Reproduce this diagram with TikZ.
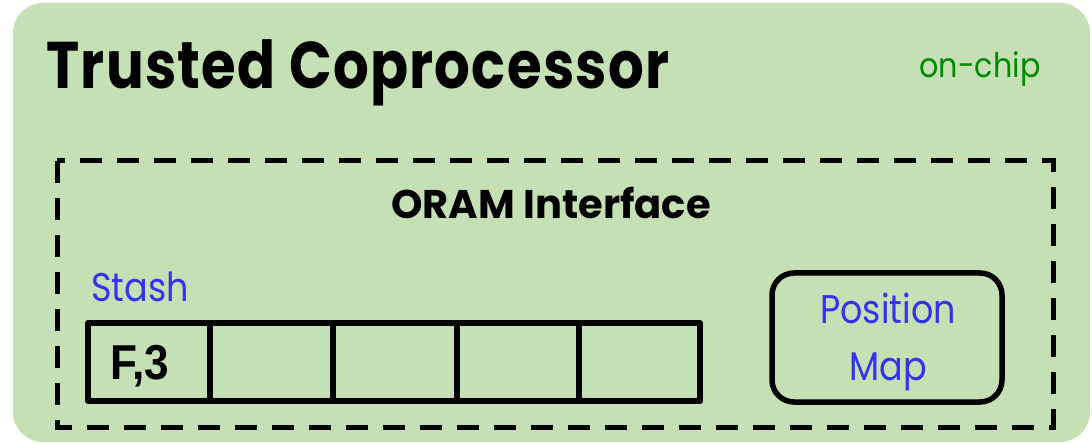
\documentclass[tikz,border=0pt]{standalone}
\usepackage{fontspec}
\setmainfont{Poppins}
\newfontfamily\titlefont[FakeStretch=0.85,LetterSpace=2]{Poppins}
\newfontfamily\onchipfont[FakeStretch=0.89]{Poppins}
\newfontfamily\bluefont[FakeStretch=0.875]{Poppins}
\newfontfamily\arialfont[FakeStretch=0.9]{Liberation Sans}
\definecolor{chipgreen}{HTML}{C5E0B4}
\definecolor{labelgreen}{HTML}{008A00}
\definecolor{labelblue}{HTML}{3333F0}
\tikzset{
  cellbox/.style={draw=black, line width=5.5pt, line join=round},
  pmapbox/.style={draw=black, line width=5.5pt, rounded corners=22pt},
  dashbox/.style={draw=black, line width=5pt, dash pattern=on 22pt off 15pt},
  bluetext/.style={text=labelblue, font=\bluefont\fontsize{40}{56}\selectfont, inner sep=0pt},
}
\begin{document}
\begin{tikzpicture}[x=1pt, y=-1pt]
\useasboundingbox (0,0) rectangle (1092,443);
\fill[chipgreen, rounded corners=30pt] (13,3) rectangle (1090,442);
\node[anchor=base west, inner sep=0pt, font=\titlefont\fontsize{66}{70}\selectfont\bfseries] (title) at (46,89) {Trusted Coprocessor};
\node[anchor=base, inner sep=0pt, text=labelgreen, font=\onchipfont\fontsize{34}{40}\selectfont] (onchip) at (980,78) {on-chip};
\draw[dashbox] (57,161) rectangle (1053,427);
\node[anchor=base, inner sep=0pt, font=\fontsize{40}{44}\selectfont\bfseries] (oram) at (551,219) {ORAM Interface};
\node[bluetext, anchor=base west] (stash) at (91,302) {Stash};
\foreach \a/\b [count=\i] in {88/210,210/333,333/457,457/579,579/700}{
  \draw[cellbox] (\a,323) rectangle (\b,401) node[midway] (cell\i) {};
}
\node[anchor=base west, inner sep=0pt, font=\arialfont\fontsize{49}{50}\selectfont\bfseries] (f3) at (110,380) {F,3};
\draw[pmapbox] (772,273) rectangle (1002,402) node[midway] (pmap) {};
\node[bluetext, anchor=base] (pos) at (888,324) {Position};
\node[bluetext, anchor=base] (map) at (888,381) {Map};
\end{tikzpicture}
\end{document}
